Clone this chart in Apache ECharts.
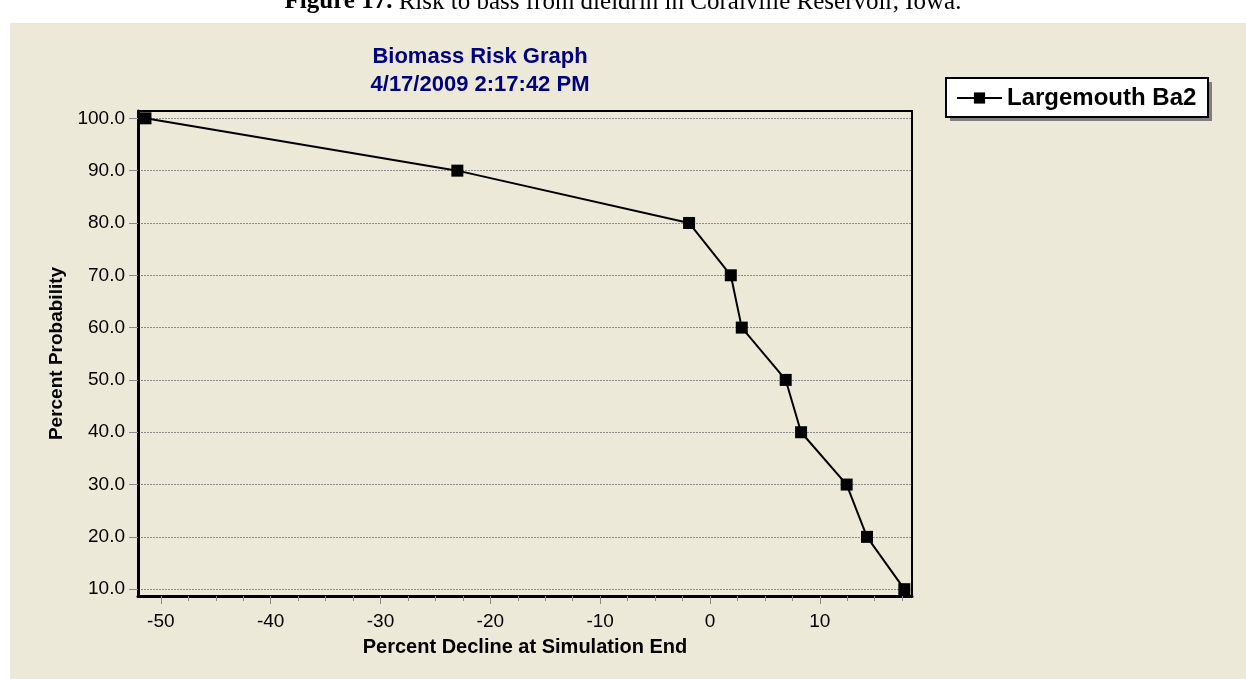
<!DOCTYPE html>
<html>
<head>
<meta charset="utf-8">
<script src="https://cdn.jsdelivr.net/npm/echarts@6/dist/echarts.min.js"></script>
<style>
  html, body { margin: 0; padding: 0; background: #ffffff; }
  #chart { width: 1246px; height: 679px; }
</style>
</head>
<body>
<div id="chart"></div>
<script>
// ---- data ----
const seriesName = 'Largemouth Ba2';
const percentDecline = [-51.4, -23.0, -1.9, 1.9, 2.9, 6.9, 8.3, 12.45, 14.3, 17.7];
const percentProbability = [100, 90, 80, 70, 60, 50, 40, 30, 20, 10];
const xTickValues = [-50, -40, -30, -20, -10, 0, 10];
const xMinorTickValues = [-50, -47.5, -45, -42.5, -40, -37.5, -35, -32.5, -30, -27.5, -25, -22.5, -20, -17.5, -15, -12.5, -10, -7.5, -5, -2.5, 0, 2.5, 5, 7.5, 10, 12.5, 15, 17.5];
const yTickValues = [10, 20, 30, 40, 50, 60, 70, 80, 90, 100];
const chartTitle = 'Biomass Risk Graph';
const chartSubtitle = '4/17/2009 2:17:42 PM';
const xAxisName = 'Percent Decline at Simulation End';
const yAxisName = 'Percent Probability';
const caption = 'Risk to bass from dieldrin in Coralville Reservoir, Iowa.';
const captionLabel = 'Figure 17.';

const seriesData = percentDecline.map((x, i) => [x, percentProbability[i]]);

const chart = echarts.init(document.getElementById('chart'), null, { renderer: 'canvas' });

const font = 'Liberation Sans, Arial, sans-serif';

const option = {
  backgroundColor: '#ffffff',
  animation: false,
  graphic: [
    {
      type: 'rect', z: -10, silent: true,
      shape: { x: 10, y: 23, width: 1236, height: 656 },
      style: { fill: '#ECE9D8' }
    },
    {
      type: 'text', z: 10, silent: true,
      x: 623, y: 2,
      style: {
        text: '{b|' + captionLabel + '} ' + caption,
        align: 'center', verticalAlign: 'middle',
        font: '25px "Liberation Serif", "Times New Roman", serif',
        fill: '#000',
        rich: { b: { fontWeight: 'bold', fontSize: 25, fontFamily: 'Liberation Serif' } }
      }
    },
    // legend frame: shadow and box
    {
      type: 'rect', z: 0, silent: true,
      shape: { x: 950, y: 82, width: 262, height: 39 },
      style: { fill: '#7f7f7f' }
    },
    {
      type: 'rect', z: 1, silent: true,
      shape: { x: 946, y: 78, width: 262, height: 39 },
      style: { fill: '#ffffff', stroke: '#000000', lineWidth: 2 }
    }
  ],
  title: {
    text: chartTitle + '\n' + chartSubtitle,
    left: 480, top: 43, textAlign: 'center', padding: 0,
    textStyle: { fontFamily: font, fontSize: 22, fontWeight: 'bold', color: '#000080', lineHeight: 28 }
  },
  legend: {
    show: true,
    left: 946, top: 78,
    padding: [8, 12, 8, 10],
    backgroundColor: 'transparent',
    borderWidth: 0,
    itemWidth: 45, itemHeight: 14, itemGap: 6,
    textStyle: { fontFamily: font, fontSize: 24, fontWeight: 'bold', color: '#000' },
    data: [seriesName],
    z: 5
  },
  grid: {
    left: 138, right: 334, top: 111, bottom: 83,
    show: true, borderColor: '#000', borderWidth: 2, backgroundColor: 'transparent',
    containLabel: false
  },
  xAxis: [
    {
      type: 'value', min: -52.08, max: 18.4, position: 'bottom',
      name: xAxisName, nameLocation: 'middle', nameGap: 41,
      nameTextStyle: { fontFamily: font, fontSize: 20, fontWeight: 'bold', color: '#000' },
      axisLine: { show: true, onZero: false, lineStyle: { color: '#000', width: 3 } },
      axisTick: { show: true, length: 8, customValues: xTickValues, lineStyle: { color: '#888', width: 1 } },
      axisLabel: { show: true, margin: 16, customValues: xTickValues, fontFamily: font, fontSize: 19, color: '#000',
                   formatter: v => String(v) },
      splitLine: { show: false }
    },
    {
      type: 'value', min: -52.08, max: 18.4, position: 'bottom',
      axisLine: { show: false },
      axisTick: { show: true, length: 5, customValues: xMinorTickValues, lineStyle: { color: '#888', width: 1 } },
      axisLabel: { show: false },
      splitLine: { show: false }
    }
  ],
  yAxis: {
    type: 'value', min: 8.7, max: 101.4,
    name: yAxisName, nameLocation: 'middle', nameGap: 70,
    nameTextStyle: { fontFamily: font, fontSize: 19, fontWeight: 'bold', color: '#000' },
    axisLine: { show: true, onZero: false, lineStyle: { color: '#000', width: 3 } },
    axisTick: { show: true, length: 9, customValues: yTickValues, lineStyle: { color: '#888', width: 1 } },
    axisLabel: { show: true, margin: 13, customValues: yTickValues, fontFamily: font, fontSize: 19, color: '#000',
                 formatter: v => Number(v).toFixed(1) },
    splitLine: { show: true, lineStyle: { color: '#8c8c8c', width: 1, type: [2, 1] } }
  },
  series: [
    {
      name: seriesName, type: 'line', xAxisIndex: 0, yAxisIndex: 0,
      data: seriesData,
      symbol: 'rect', symbolSize: 12,
      lineStyle: { color: '#000', width: 2 },
      itemStyle: { color: '#000' },
      clip: true,
      z: 1
    }
  ]
};

chart.setOption(option);
</script>
</body>
</html>
